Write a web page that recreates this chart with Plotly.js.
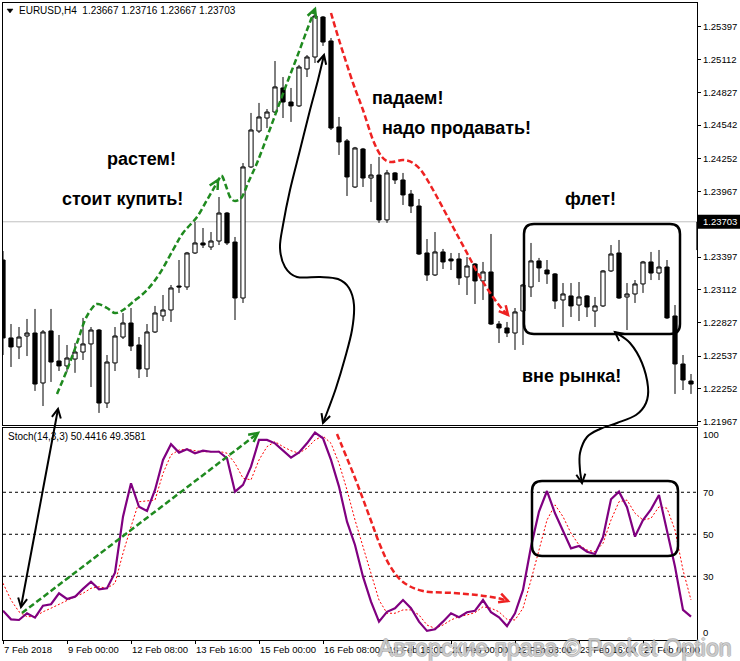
<!DOCTYPE html>
<html><head><meta charset="utf-8">
<script src="https://cdn.plot.ly/plotly-3.0.1.min.js"></script>
<style>html,body{margin:0;padding:0;background:#fff;}#chart{width:740px;height:661px;}</style>
</head><body><div id="chart"></div>
<script>
// ---------------- DATA ----------------
const symbolInfo = 'EURUSD,H4\u00a0\u00a01.23667 1.23716 1.23667 1.23703';
const stochInfo = 'Stoch(14,3,3) 50.4416 49.3581';
const currentPrice = 1.23703;

const openP = [1.23371,1.22694,1.22616,1.22711,1.22737,1.22303,1.22755,1.22494,1.22451,1.22511,
1.22572,1.22642,1.22763,1.22129,1.22477,1.22702,1.22824,1.22633,1.22425,1.22746,
1.22885,1.22937,1.23145,1.23137,1.23432,1.23519,1.23484,1.23536,1.23779,1.23527,
1.23041,1.24179,1.24491,1.24604,1.24656,1.24865,1.24743,1.24709,1.25030,1.25134,
1.25481,1.25273,1.24526,1.24405,1.24005,1.24335,1.24083,1.24109,1.23719,1.24127,
1.24066,1.23944,1.23840,1.23432,1.23241,1.23441,1.23380,1.23380,1.23224,1.23336,
1.23189,1.23267,1.22815,1.22781,1.22737,1.22928,1.23137,1.23363,1.23284,1.23250,
1.23024,1.23059,1.22980,1.23059,1.22928,1.22972,1.23276,1.23432,1.23050,1.23076,
1.23163,1.23354,1.23258,1.23310,1.22885,1.22468,1.22320,1.23701];
const highP = [1.23449,1.22815,1.22789,1.22859,1.22946,1.22763,1.22946,1.22720,1.22633,1.22650,
1.22868,1.22789,1.22772,1.22546,1.22789,1.22911,1.22954,1.22702,1.22815,1.22972,
1.23067,1.23154,1.23371,1.23441,1.23701,1.23649,1.23614,1.23918,1.23788,1.23571,
1.24213,1.24648,1.24735,1.24682,1.25099,1.24960,1.24865,1.25065,1.25151,1.25542,
1.25490,1.25299,1.24613,1.24422,1.24353,1.24344,1.24205,1.24266,1.24153,1.24135,
1.24127,1.23979,1.23901,1.23553,1.23614,1.23467,1.23432,1.23432,1.23397,1.23345,
1.23354,1.23597,1.22841,1.22833,1.22954,1.23163,1.23519,1.23389,1.23371,1.23258,
1.23171,1.23171,1.23180,1.23067,1.23050,1.23284,1.23501,1.23545,1.23171,1.23197,
1.23363,1.23441,1.23458,1.23371,1.22980,1.22546,1.22381,1.23710];
const lowP = [1.22546,1.22442,1.22511,1.22537,1.22234,1.22103,1.22312,1.22407,1.22399,1.22391,
1.22503,1.22268,1.22043,1.22086,1.22407,1.22685,1.22581,1.22346,1.22355,1.22737,
1.22841,1.22833,1.23085,1.23111,1.23423,1.23475,1.23458,1.23501,1.23501,1.22850,
1.22998,1.24170,1.24474,1.24517,1.24648,1.24604,1.24570,1.24700,1.24960,1.25082,
1.25230,1.24500,1.24283,1.23927,1.23996,1.24005,1.23875,1.23693,1.23693,1.24031,
1.23849,1.23779,1.23415,1.23189,1.23232,1.23293,1.23284,1.23154,1.23067,1.22989,
1.23024,1.22807,1.22650,1.22702,1.22590,1.22633,1.23050,1.23180,1.23163,1.22946,
1.22789,1.22876,1.22841,1.22876,1.22789,1.22963,1.23267,1.23033,1.22763,1.22998,
1.23085,1.23197,1.23197,1.22859,1.22208,1.22242,1.22208,1.23441];
const closeP = [1.22694,1.22616,1.22702,1.22737,1.22294,1.22746,1.22485,1.22451,1.22520,1.22572,
1.22642,1.22763,1.22129,1.22485,1.22711,1.22824,1.22624,1.22425,1.22746,1.22911,
1.22937,1.23128,1.23137,1.23432,1.23519,1.23501,1.23536,1.23779,1.23519,1.23041,
1.24179,1.24500,1.24613,1.24656,1.24874,1.24743,1.24709,1.25047,1.25134,1.25490,
1.25264,1.24517,1.24396,1.24092,1.24344,1.24083,1.24109,1.23719,1.24127,1.24066,
1.23936,1.23840,1.23423,1.23241,1.23441,1.23354,1.23363,1.23215,1.23319,1.23189,
1.23267,1.22815,1.22781,1.22737,1.22920,1.23154,1.23363,1.23302,1.23250,1.23015,
1.23076,1.22972,1.23050,1.22963,1.22972,1.23276,1.23423,1.23041,1.23076,1.23163,
1.23354,1.23258,1.23310,1.22868,1.22468,1.22329,1.22294,1.23458];

const stochK = [13.6,9.5,9.2,12.4,10.3,16.0,16.7,21.9,19.2,20.3,
24.0,27.4,23.8,24.3,31.7,58.4,74.3,63.1,61.1,71.1,
85.4,92.9,88.9,90.5,88.6,89.8,89.3,89.3,86.2,70.3,
73.5,82.2,94.9,94.9,93.3,89.8,86.5,89.0,93.3,98.4,
95.7,85.4,72.7,56.0,44.9,29.8,17.9,8.4,13.1,14.8,
18.7,14.8,8.4,4.0,4.8,8.4,12.4,10.5,12.9,13.6,
18.7,12.9,10.5,6.3,12.4,23.5,44.1,60.8,70.6,60.0,
52.0,43.3,44.4,41.7,40.6,48.6,66.7,70.3,62.9,48.9,
56.8,61.9,68.7,51.2,34.6,14.0,10.8];
const stochD = [26.7,18.7,13.1,10.8,10.8,13.1,14.8,16.7,18.7,20.3,
21.9,24.3,25.0,24.3,26.7,41.0,53.6,65.5,65.9,66.3,
79.0,87.8,90.1,90.5,89.8,89.3,89.3,89.5,88.6,83.8,
76.7,75.9,85.4,91.7,94.1,91.7,89.8,88.6,91.0,94.9,
96.8,93.3,83.8,71.1,56.8,44.1,31.4,18.7,12.4,12.4,
14.0,14.0,11.6,6.8,5.2,6.8,9.2,10.8,11.6,12.7,
15.5,14.8,13.1,9.5,9.2,14.8,28.2,42.5,56.8,64.0,
58.4,50.5,44.9,42.5,41.7,45.7,56.8,65.5,66.3,60.0,
56.8,57.6,63.1,62.4,52.0,33.0,18.7];

const priceTicks = [1.25397,1.25112,1.24827,1.24542,1.24252,1.23967,1.23397,1.23112,1.22827,1.22537,1.22252,1.21967];
const stochLevels = [70,50,30];
const stochTickLabels = ['100','70','50','30','0'];
const dateLabels = ['7 Feb 2018','9 Feb 00:00','12 Feb 08:00','13 Feb 16:00','15 Feb 00:00','16 Feb 08:00','19 Feb 16:00','21 Feb 00:00','22 Feb 08:00','23 Feb 16:00','27 Feb 00:00'];
const dateBars = [0,8,16,24,32,40,48,56,64,72,80];

const notes = ['растем!','стоит купить!','падаем!','надо продавать!','флет!','вне рынка!'];
const watermark = 'Авторские права © Pocket Option';

// ---------------- GEOMETRY (decorations, px in 740x661 page) ----------------
const PL=3, PR=697, PT=3, PB=640;
function px2p(p){return [(p[0]-PL)/(PR-PL),(PB-p[1])/(PB-PT)];}
function fmt(p){const q=px2p(p);return q[0].toFixed(5)+','+q[1].toFixed(5);}
function smooth(pts){
  let d='M'+fmt(pts[0]);
  for(let i=0;i<pts.length-1;i++){
    const p0=pts[i-1]||pts[i],p1=pts[i],p2=pts[i+1],p3=pts[i+2]||p2;
    const c1=[p1[0]+(p2[0]-p0[0])/6,p1[1]+(p2[1]-p0[1])/6];
    const c2=[p2[0]-(p3[0]-p1[0])/6,p2[1]-(p3[1]-p1[1])/6];
    d+='C'+fmt(c1)+' '+fmt(c2)+' '+fmt(p2);
  }
  return d;
}
function head(tip,from,len,ang){
  len=len||10;ang=(ang||27)*Math.PI/180;
  let dx=tip[0]-from[0],dy=tip[1]-from[1];const n=Math.hypot(dx,dy);dx/=n;dy/=n;
  const r=(a)=>[tip[0]-len*(dx*Math.cos(a)-dy*Math.sin(a)),tip[1]-len*(dx*Math.sin(a)+dy*Math.cos(a))];
  return 'M'+fmt(r(ang))+'L'+fmt(tip)+'L'+fmt(r(-ang));
}
function rrect(x0,y0,x1,y1,r){
  return 'M'+fmt([x0+r,y0])+'L'+fmt([x1-r,y0])+'Q'+fmt([x1,y0])+' '+fmt([x1,y0+r])+
  'L'+fmt([x1,y1-r])+'Q'+fmt([x1,y1])+' '+fmt([x1-r,y1])+'L'+fmt([x0+r,y1])+
  'Q'+fmt([x0,y1])+' '+fmt([x0,y1-r])+'L'+fmt([x0,y0+r])+'Q'+fmt([x0,y0])+' '+fmt([x0+r,y0])+'Z';
}
const GREEN='#1f8a1f', RED='#ee2222';
const greenMain=[[57,394],[67,370],[77,343],[85,320],[93,307],[98,304],[107,308],[115,313],[123,310],[133,302],[147,290],[160,273],[173,250],[183,233],[197,217],[207,200],[214,188],[219,179],[222,176],[226,186],[230,197],[235,201],[242,197],[248,183],[257,163],[267,137],[277,110],[287,83],[297,57],[307,30],[315,9]];
const redMain=[[331,13],[340,43],[353,83],[363,110],[373,140],[382,157],[391,162],[403,160],[413,163],[423,173],[437,197],[453,227],[467,253],[480,277],[493,297],[503,310],[508,315]];
const blackS=[[324,55],[318,80],[310,110],[300,150],[290,190],[283,225],[280,248],[285,267],[297,277],[320,277],[338,279],[349,288],[354,305],[352,330],[345,358],[336,388],[328,410],[323,423]];
const blackFlat=[[615,332],[630,343],[642,363],[648,387],[646,403],[636,415],[617,423],[600,429],[587,437],[580,453],[580,470],[582,483]];
const redStoch=[[337,434],[355,478],[370,518],[380,545],[390,566],[403,582],[423,591],[453,593],[477,595],[497,598],[508,601]];

const shapes=[];
function addPath(d,color,width,dash,fill){shapes.push({type:'path',xref:'paper',yref:'paper',path:d,line:{color:color,width:width,dash:dash||'solid'},fillcolor:fill||'rgba(0,0,0,0)',layer:'above'});}
// current price line
shapes.push({type:'line',xref:'paper',yref:'y',x0:0,x1:1,y0:currentPrice,y1:currentPrice,line:{color:'#c0c0c0',width:1},layer:'below'});
// stoch levels
stochLevels.forEach(v=>shapes.push({type:'line',xref:'paper',yref:'y2',x0:0,x1:1,y0:v,y1:v,line:{color:'black',width:1,dash:'dot'},layer:'below'}));
// green main
addPath(smooth(greenMain),GREEN,2.5,'6px,3px');
addPath(head([218,180],[209,196]),GREEN,2.5);
addPath(head([315,9],[309,25]),GREEN,2.5);
// red main
addPath(smooth(redMain),RED,2.5,'6px,3px');
addPath(head([508,315],[497,302]),RED,2.5);
// black arrows
addPath('M'+fmt([21,607])+'L'+fmt([58,409]),'black',2);
addPath(head([21,607],[40,505]),'black',2);
addPath(head([58,409],[40,505]),'black',2);
addPath(smooth(blackS),'black',2);
addPath(head([324,55],[318,78]),'black',2);
addPath(head([323,423],[329,405]),'black',2);
addPath(smooth(blackFlat),'black',2);
addPath(head([615,332],[629,343]),'black',2);
addPath(head([582,483],[580,468]),'black',2);
// stoch arrows
addPath('M'+fmt([22,613])+'L'+fmt([257,434]),GREEN,2.5,'6px,3px');
addPath(head([258,433],[230,454]),GREEN,2.5);
addPath(smooth(redStoch),RED,2.5,'6px,3px');
addPath(head([508,601],[497,597]),RED,2.5);
// boxes
addPath(rrect(524,224,680,334,10),'black',2.5);
addPath(rrect(532,481,678,556,10),'black',2.5);
// little triangle
addPath('M'+fmt([7,9])+'L'+fmt([13,9])+'L'+fmt([10,13])+'Z','black',0.5,'solid','black');
// current price box (in margin)
shapes.push({type:'rect',xref:'paper',yref:'y',x0:1,x1:(740-PL)/(PR-PL),y0:currentPrice-0.00061,y1:currentPrice+0.00061,line:{width:0},fillcolor:'black',layer:'above'});

const FONT='"Liberation Sans", Arial, sans-serif';
const annotations=[];
function pxAnn(text,x,y,opts){const q=px2p([x,y]);annotations.push(Object.assign({xref:'paper',yref:'paper',x:q[0],y:q[1],text:text,showarrow:false,xanchor:'left',yanchor:'middle',font:{family:FONT,size:10,color:'black'}},opts||{}));}
pxAnn(symbolInfo,17,11);
pxAnn(stochInfo,6,436);
const noteFont={family:FONT,size:18,color:'black',weight:'bold'};
pxAnn(notes[0],141,159,{xanchor:'center',font:noteFont});
pxAnn(notes[1],122,199,{xanchor:'center',font:noteFont});
pxAnn(notes[2],407,98,{xanchor:'center',font:noteFont});
pxAnn(notes[3],456,128,{xanchor:'center',font:noteFont});
pxAnn(notes[4],590,199,{xanchor:'center',font:noteFont});
pxAnn(notes[5],571,376,{xanchor:'center',font:noteFont});
// current price label text
annotations.push({xref:'paper',yref:'y',x:1,y:currentPrice,xshift:4,text:currentPrice.toFixed(5),showarrow:false,xanchor:'left',yanchor:'middle',font:{family:FONT,size:9.5,color:'white'}});
// date labels
dateBars.forEach((b,i)=>annotations.push({xref:'x2',yref:'paper',x:b,y:(PB-649)/(PB-PT),xshift:-1,text:dateLabels[i],showarrow:false,xanchor:'left',yanchor:'middle',font:{family:FONT,size:9.5,color:'black'}}));
// watermark
pxAnn(watermark,555,648,{xanchor:'center',font:{family:FONT,size:23,color:'rgba(255,255,255,0.55)',shadow:'1px 0 0 rgba(120,120,120,0.8), -1px 0 0 rgba(120,120,120,0.8), 0 1px 0 rgba(120,120,120,0.8), 0 -1px 0 rgba(120,120,120,0.8)'}});

const bars = openP.map((_,i)=>i);
const kx = stochK.map((_,i)=>i);

const traces=[
 {type:'candlestick',x:bars,open:openP,high:highP,low:lowP,close:closeP,xaxis:'x',yaxis:'y',
  increasing:{line:{color:'black',width:1},fillcolor:'white'},
  decreasing:{line:{color:'black',width:1},fillcolor:'black'},whiskerwidth:0,hoverinfo:'skip'},
 {type:'scatter',mode:'lines',x:kx,y:stochD,xaxis:'x2',yaxis:'y2',line:{color:'#ff0000',width:1,dash:'2px,2px'},hoverinfo:'skip'},
 {type:'scatter',mode:'lines',x:kx,y:stochK,xaxis:'x2',yaxis:'y2',line:{color:'#800080',width:2.2},hoverinfo:'skip'}
];

const xr=[0,(PR-PL)/8];
const mainBottom=(PB-425)/(PB-PT), stochTop=(PB-428)/(PB-PT);
const pxPer=0.00008684;
const layout={
 width:740,height:661,margin:{l:PL,r:740-PR,t:PT,b:661-PB,pad:0},
 paper_bgcolor:'white',plot_bgcolor:'white',showlegend:false,boxgap:0.25,
 xaxis:{domain:[0,1],anchor:'y',range:xr,showline:true,mirror:true,linecolor:'black',linewidth:1,showgrid:false,zeroline:false,showticklabels:false,ticks:'',rangeslider:{visible:false},fixedrange:true},
 yaxis:{domain:[mainBottom,1],anchor:'x',side:'right',range:[1.25397-(425-26.7)*pxPer,1.25397+(26.7-3)*pxPer],tickvals:priceTicks,ticktext:priceTicks.map(v=>v.toFixed(5)),ticks:'outside',ticklen:3,tickcolor:'black',showline:true,mirror:true,linecolor:'black',linewidth:1,showgrid:false,zeroline:false,tickfont:{family:FONT,size:9.5,color:'black'},fixedrange:true},
 xaxis2:{domain:[0,1],anchor:'y2',range:xr,showline:true,mirror:true,linecolor:'black',linewidth:1,showgrid:false,zeroline:false,tickvals:dateBars,showticklabels:false,ticks:'outside',ticklen:3,tickcolor:'black',fixedrange:true},
 yaxis2:{domain:[0,stochTop],anchor:'x2',side:'right',range:[-0.33,100.6],tickvals:[97.4,70,50,30,3.0],ticktext:stochTickLabels,ticks:'outside',ticklen:3,tickcolor:'rgba(0,0,0,0)',showline:true,mirror:true,linecolor:'black',linewidth:1,showgrid:false,zeroline:false,tickfont:{family:FONT,size:9.5,color:'black'},fixedrange:true},
 shapes:shapes,annotations:annotations
};
Plotly.newPlot('chart',traces,layout,{staticPlot:true,displayModeBar:false});
</script></body></html>
